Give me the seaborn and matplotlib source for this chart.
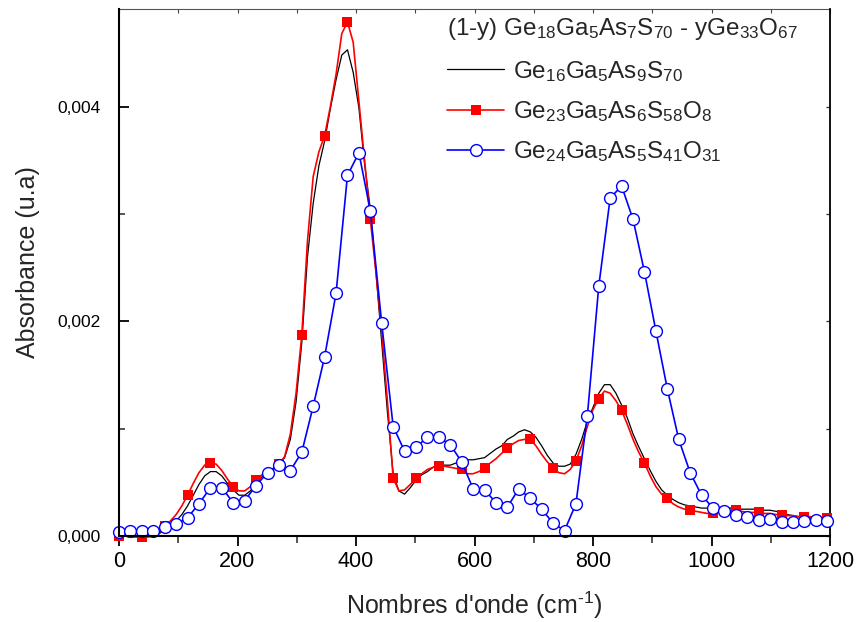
import numpy as np
import pandas as pd
import matplotlib
matplotlib.use("Agg")
import matplotlib.pyplot as plt
import seaborn as sns
from matplotlib.ticker import MultipleLocator, FuncFormatter
from matplotlib import font_manager

# ---------------- data (absorbance in units of 1e-4) ----------------
fine_step = 9.64     # cm-1 spacing of the black / red spectra
blue_step = 19.28    # cm-1 spacing of the blue spectrum

black_y = [0.0, 0.0, 0.0, 0.0, 0.0, 0.0, 0.1, 0.2, 0.6, 0.9,
           1.4, 2.0, 2.8, 3.8, 4.8, 5.6, 6.0, 6.0, 5.6, 4.9,
           4.3, 3.8, 3.8, 4.2, 4.9, 5.5, 5.9, 6.2, 6.6, 7.3,
           9.0, 12.5, 18.0, 26.0, 31.0, 34.5, 36.8, 39.8, 42.5, 44.8,
           45.3, 43.2, 39.9, 34.6, 30.5, 24.5, 18.0, 11.5, 5.8, 4.2,
           3.9, 4.5, 5.2, 5.7, 6.0, 6.4, 6.7, 6.6, 6.6, 6.8,
           7.0, 7.1, 7.1, 7.2, 7.3, 7.7, 8.1, 8.4, 9.0, 9.3,
           9.7, 9.9, 9.7, 9.2, 8.4, 7.5, 6.8, 6.5, 6.5, 6.7,
           7.6, 9.0, 10.7, 12.0, 13.3, 14.1, 14.1, 13.3, 12.2, 11.0,
           9.5, 8.3, 7.2, 6.1, 5.1, 4.3, 3.8, 3.4, 3.1, 2.9,
           2.8, 2.7, 2.6, 2.6, 2.5, 2.6, 2.6, 2.6, 2.6, 2.5,
           2.5, 2.5, 2.5, 2.4, 2.4, 2.3, 2.2, 2.0, 1.9, 1.8,
           1.8, 1.7, 1.7, 1.7, 1.6]

red_y = [0.0, 0.0, -0.1, -0.1, -0.1, -0.1, 0.0, 0.3, 0.9, 1.4,
         2.0, 2.8, 3.8, 4.9, 5.9, 6.6, 6.8, 6.7, 6.1, 5.3,
         4.6, 4.2, 4.2, 4.6, 5.2, 5.7, 6.0, 6.3, 6.7, 7.4,
         9.5, 13.3, 18.7, 27.5, 33.5, 35.8, 37.3, 40.0, 43.0, 46.8,
         47.9, 46.0, 40.5, 35.0, 29.5, 24.5, 19.0, 12.5, 5.4, 4.2,
         4.3, 4.8, 5.4, 5.8, 6.2, 6.4, 6.5, 6.5, 6.4, 6.3,
         6.2, 5.8, 5.8, 6.0, 6.3, 6.8, 7.2, 7.7, 8.2, 8.6,
         8.9, 9.0, 9.0, 8.4, 7.6, 6.9, 6.3, 5.9, 5.8, 6.2,
         7.0, 8.4, 10.2, 11.8, 12.8, 13.5, 13.3, 12.6, 11.7, 10.4,
         9.0, 7.8, 6.8, 5.6, 4.6, 3.9, 3.5, 3.0, 2.7, 2.5,
         2.4, 2.3, 2.2, 2.1, 2.1, 2.2, 2.3, 2.3, 2.4, 2.3,
         2.2, 2.2, 2.2, 2.1, 2.1, 2.0, 2.0, 1.9, 1.9, 1.8,
         1.8, 1.8, 1.7, 1.7, 1.7]

blue_y = [0.4, 0.5, 0.5, 0.5, 0.8, 1.1, 1.7, 3.0, 4.5, 4.5,
          3.1, 3.3, 4.7, 5.9, 6.6, 6.1, 7.8, 12.1, 16.7, 22.6,
          33.6, 35.7, 30.3, 19.8, 10.2, 7.9, 8.3, 9.2, 9.2, 8.5,
          6.9, 4.4, 4.3, 3.1, 2.7, 4.4, 3.5, 2.5, 1.2, 0.5,
          3.0, 11.2, 23.3, 31.5, 32.6, 29.5, 24.6, 19.1, 13.7, 9.0,
          5.9, 3.8, 2.6, 2.3, 2.0, 1.8, 1.5, 1.6, 1.3, 1.3,
          1.4, 1.5, 1.4]

series_labels = [r"Ge$_{16}$Ga$_{5}$As$_{9}$S$_{70}$",
                 r"Ge$_{23}$Ga$_{5}$As$_{6}$S$_{58}$O$_{8}$",
                 r"Ge$_{24}$Ga$_{5}$As$_{5}$S$_{41}$O$_{31}$"]
legend_title = r"(1-y) Ge$_{18}$Ga$_{5}$As$_{7}$S$_{70}$ - yGe$_{33}$O$_{67}$"
x_title = r"Nombres d'onde (cm$^{\text{-1}}$)"
y_title = "Absorbance (u.a)"

x_fine = np.arange(len(black_y)) * fine_step
x_blue = np.arange(len(blue_y)) * blue_step
df_fine = pd.DataFrame({"x": x_fine,
                        "black": np.array(black_y) * 1e-4,
                        "red": np.array(red_y) * 1e-4})
df_blue = pd.DataFrame({"x": x_blue, "blue": np.array(blue_y) * 1e-4})

# ---------------- style ----------------
sns.set_style("ticks")
avail = {f.name for f in font_manager.fontManager.ttflist}
fam = "Liberation Sans" if "Liberation Sans" in avail else "DejaVu Sans"
plt.rcParams["font.family"] = [fam, "DejaVu Sans"]
plt.rcParams["mathtext.fontset"] = "custom"
plt.rcParams["mathtext.rm"] = fam
plt.rcParams["mathtext.it"] = fam + ":italic"
plt.rcParams["mathtext.bf"] = fam + ":bold"
plt.rcParams["mathtext.default"] = "regular"

W, H = 856, 622
fig = plt.figure(figsize=(W / 100, H / 100), dpi=100)
L, R, B, T = 119, 830, 536, 9
ax = fig.add_axes([L / W, (H - B) / H, (R - L) / W, (B - T) / H])

sns.lineplot(data=df_fine, x="x", y="black", ax=ax, color="black", lw=0.9,
             label=series_labels[0], sort=False)
sns.lineplot(data=df_fine, x="x", y="red", ax=ax, color="#ff0000", lw=1.2,
             marker="s", markersize=7.5, markevery=4, markeredgewidth=0,
             markeredgecolor="#ff0000", markerfacecolor="#ff0000",
             label=series_labels[1], sort=False, clip_on=False)
sns.lineplot(data=df_blue, x="x", y="blue", ax=ax, color="#0000ff", lw=1.2,
             marker="o", markersize=8.5, markerfacecolor="white",
             markeredgecolor="#0000ff", markeredgewidth=1.0,
             label=series_labels[2], sort=False, clip_on=False)

ax.set_xlim(0, 1200)
ax.set_ylim(0, 0.00491)

ax.xaxis.set_major_locator(MultipleLocator(200))
ax.xaxis.set_minor_locator(MultipleLocator(100))
ax.yaxis.set_major_locator(MultipleLocator(0.002))
ax.yaxis.set_minor_locator(MultipleLocator(0.001))
ax.yaxis.set_major_formatter(FuncFormatter(lambda v, p: f"{v:.3f}".replace(".", ",")))

ax.tick_params(axis="x", which="major", direction="out", length=7, width=1.3,
               labelsize=15.5, pad=4, colors="black")
ax.tick_params(axis="x", which="minor", direction="out", length=5, width=1.1)
ax.tick_params(axis="y", which="major", direction="in", length=7, width=1.3,
               labelsize=12.5, pad=13.5, colors="black")
ax.tick_params(axis="y", which="minor", direction="in", length=4, width=1.1)

for s in ["left", "bottom"]:
    ax.spines[s].set_linewidth(1.5)
    ax.spines[s].set_color("black")
ax.spines["top"].set_visible(False)
ax.spines["right"].set_visible(False)

secx = ax.secondary_xaxis("top")
secx.xaxis.set_major_locator(MultipleLocator(100))
secx.tick_params(axis="x", direction="in", length=3, width=0.8, labeltop=False,
                 colors="#444444")
secx.spines["top"].set_linewidth(0.8)
secx.spines["top"].set_color("#555555")

secy = ax.secondary_yaxis("right")
secy.yaxis.set_major_locator(MultipleLocator(0.001))
secy.tick_params(axis="y", direction="in", length=3, width=0.9, labelright=False)
secy.spines["right"].set_linewidth(1.3)
secy.spines["right"].set_color("black")

ax.set_xlabel(x_title, fontsize=18)
ax.set_ylabel(y_title, fontsize=18)
ax.xaxis.set_label_coords(0.5, -0.102)
ax.yaxis.set_label_coords(-0.111, 0.519)

handles, labels = ax.get_legend_handles_labels()
leg = ax.legend(handles, labels, title=legend_title, loc="upper left",
                bbox_to_anchor=((447 - L) / (R - L), (B - 16) / (B - T)),
                frameon=False, fontsize=17.5, title_fontsize=17.5,
                handlelength=2.35, handletextpad=0.35, labelspacing=0.64,
                borderaxespad=0, borderpad=0, alignment="left", numpoints=1)
leg._legend_box.sep = 12

fig.savefig("out.png", dpi=100)
